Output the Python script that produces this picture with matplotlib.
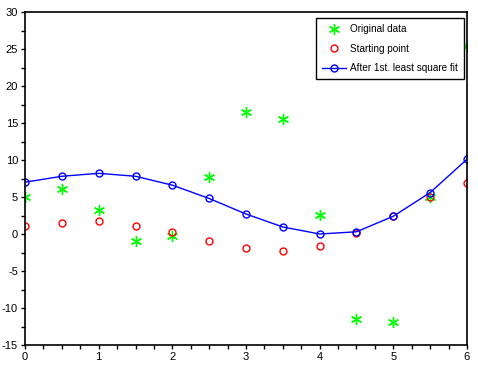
import numpy as np
import matplotlib
matplotlib.use("Agg")
import matplotlib.pyplot as plt
from matplotlib.ticker import MultipleLocator

plt.rcParams['font.family'] = ['Liberation Sans', 'DejaVu Sans']
plt.rcParams['axes.unicode_minus'] = False

# data
x = [0, 0.5, 1, 1.5, 2, 2.5, 3, 3.5, 4, 4.5, 5, 5.5, 6]
original = [5.0, 6.1, 3.2, -1.0, -0.3, 7.75, 16.5, 15.5, 2.6, -11.5, -11.9, 5.0, 25.4]
start = [1.1, 1.5, 1.7, 1.1, 0.3, -0.9, -1.85, -2.25, -1.6, 0.1, 2.4, 5.0, 6.85]
fit = [7.0, 7.8, 8.2, 7.8, 6.6, 4.8, 2.7, 0.95, 0.0, 0.3, 2.4, 5.6, 10.1]

fig = plt.figure(figsize=(4.78, 3.68), dpi=100)
ax = fig.add_axes([25 / 478, 23 / 368, 442 / 478, 333 / 368])

ax.plot(x, original, linestyle='none', marker=(6, 2, 0), markersize=8,
        color='#00ff00', markeredgewidth=1.0, label='Original data')
ax.plot(x, start, linestyle='none', marker='o', markersize=5,
        markerfacecolor='none', markeredgecolor='#ff0000', markeredgewidth=1.0,
        label='Starting point')
ax.plot(x, fit, '-', color='#0000ff', linewidth=1.0, marker='o', markersize=5,
        markerfacecolor='none', markeredgecolor='#0000ff', markeredgewidth=1.0,
        label='After 1st. least square fit')

ax.set_xlim(0, 6)
ax.set_ylim(-15, 30)
ax.xaxis.set_major_locator(MultipleLocator(1))
ax.xaxis.set_minor_locator(MultipleLocator(0.25))
ax.yaxis.set_major_locator(MultipleLocator(5))
ax.yaxis.set_minor_locator(MultipleLocator(2.5))
ax.tick_params(which='both', direction='out', length=3, width=1, labelsize=8, pad=2)
for s in ax.spines.values():
    s.set_linewidth(1.2)

leg = ax.legend(loc='upper right', bbox_to_anchor=(464 / 478, 1 - 18 / 368),
                bbox_transform=fig.transFigure, borderaxespad=0, fontsize=7.2,
                frameon=True, fancybox=False, edgecolor='black', framealpha=1,
                borderpad=0.6, labelspacing=0.95, handlelength=2.4, handletextpad=0.4)
leg.get_frame().set_linewidth(1.0)

fig.savefig('out.png', dpi=100)
